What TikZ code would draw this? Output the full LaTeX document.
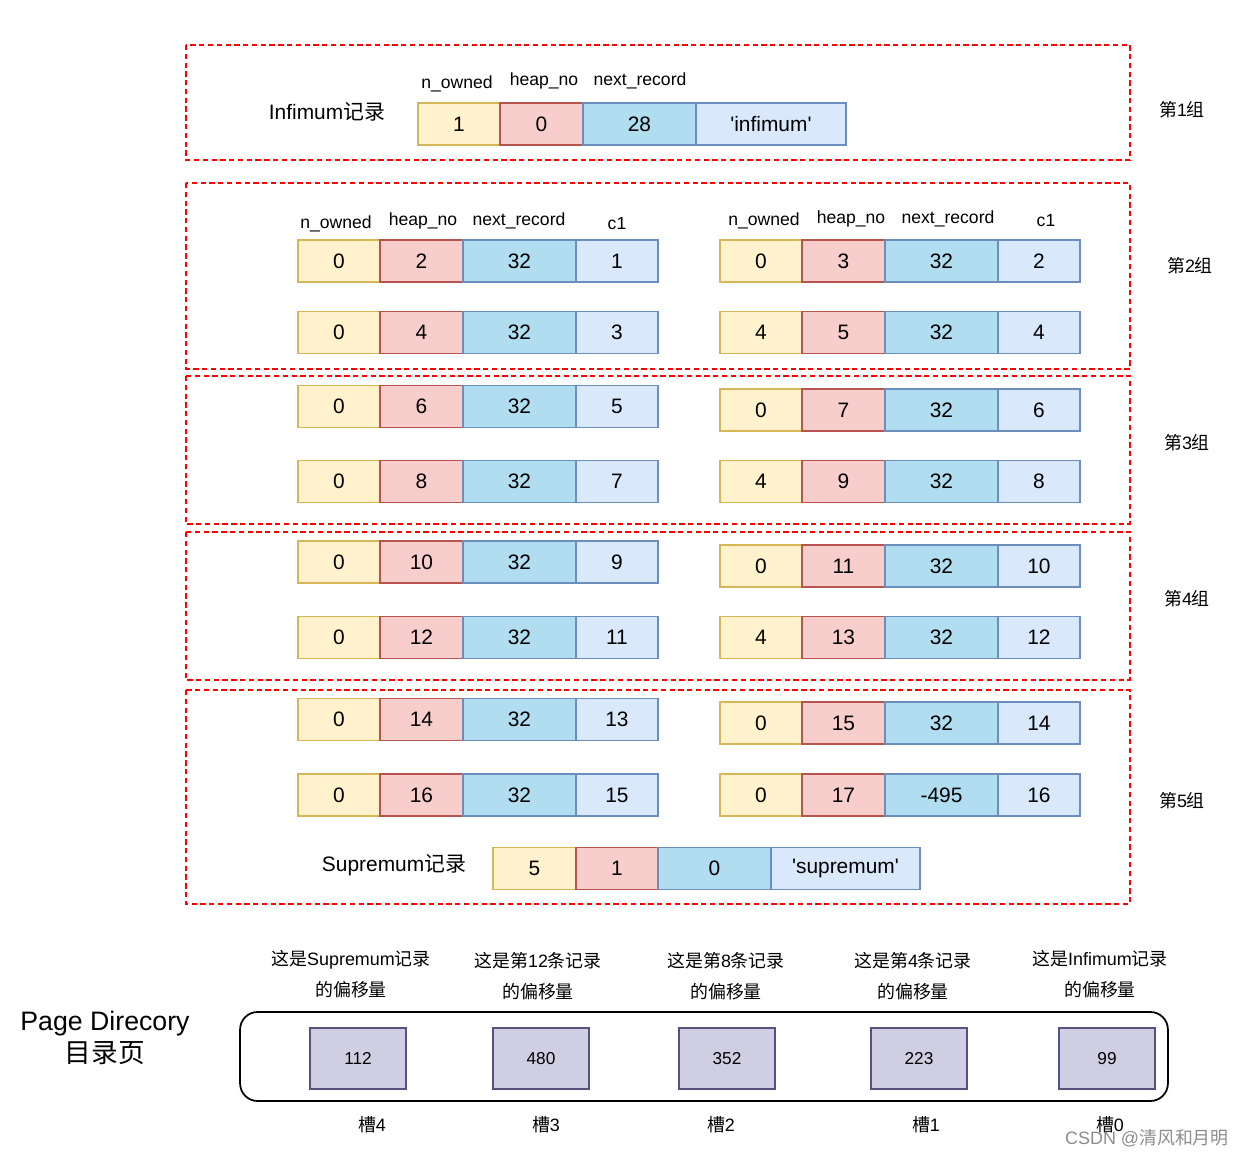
\documentclass[tikz,border=0pt]{standalone}
\usepackage{fontspec}
\setmainfont{Liberation Sans}
\newfontfamily\cjk{Noto Sans CJK SC}
\definecolor{yfill}{HTML}{FFF2CC}\definecolor{ydraw}{HTML}{D6B656}
\definecolor{rfill}{HTML}{F8CECC}\definecolor{rdraw}{HTML}{B85450}
\definecolor{bfill}{HTML}{B1DDF0}\definecolor{bdraw}{HTML}{6C8EBF}
\definecolor{lfill}{HTML}{DAE8FC}\definecolor{ldraw}{HTML}{6C8EBF}
\definecolor{pfill}{HTML}{D0CEE2}\definecolor{pdraw}{HTML}{56517E}
\definecolor{grpred}{HTML}{FF0000}
\tikzset{
  cellbase/.style={rectangle, line width=1pt, inner sep=0pt, outer sep=0pt,
    minimum height=0.84cm, font=\fontsize{11.9}{14}\selectfont, anchor=west},
  ycell/.style={cellbase, fill=yfill, draw=ydraw, minimum width=1.64cm},
  rcell/.style={cellbase, fill=rfill, draw=rdraw, minimum width=1.66cm},
  bcell/.style={cellbase, fill=bfill, draw=bdraw, minimum width=2.26cm},
  lcell/.style={cellbase, fill=lfill, draw=ldraw, minimum width=1.64cm},
  hdr/.style={font=\fontsize{10}{12}\selectfont, inner sep=0pt},
  lbl/.style={font=\fontsize{11.9}{14}\selectfont, inner sep=0pt},
  grplbl/.style={font=\fontsize{10.2}{12}\selectfont, inner sep=0pt},
  grp/.style={draw=grpred, line width=0.8pt, dash pattern=on 3pt off 2pt},
  slot/.style={rectangle, draw=pdraw, fill=pfill, line width=1pt,
    minimum width=1.92cm, minimum height=1.22cm, inner sep=0pt,
    font=\fontsize{9.8}{11}\selectfont},
  note/.style={font=\fontsize{10.2}{18}\selectfont, align=center, inner sep=0pt},
  slotlbl/.style={font=\fontsize{10.2}{12}\selectfont, inner sep=0pt},
}
\newcommand\recrow[7]{%
  \node[ycell] (#1a) at (#2,#3) {#4};
  \node[rcell] (#1b) at (#1a.east) {#5};
  \node[bcell] (#1c) at (#1b.east) {#6};
  \node[lcell] (#1d) at (#1c.east) {#7};
}
\begin{document}
\begin{tikzpicture}[x=0.02cm,y=-0.02cm]
\useasboundingbox (0,0) rectangle (1248,1155);

% group frames
\draw[grp] (186,45) rectangle (1130,160);
\draw[grp] (186,183) rectangle (1130,369);
\draw[grp] (186,376) rectangle (1130,524);
\draw[grp] (186,532) rectangle (1130,680);
\draw[grp] (186,690) rectangle (1130,904);

% group labels
\node[grplbl] (g1) at (1182,110) {{\cjk 第}1{\cjk 组}};
\node[grplbl] (g2) at (1190,266) {{\cjk 第}2{\cjk 组}};
\node[grplbl] (g3) at (1187,443) {{\cjk 第}3{\cjk 组}};
\node[grplbl] (g4) at (1187,599) {{\cjk 第}4{\cjk 组}};
\node[grplbl] (g5) at (1182,801) {{\cjk 第}5{\cjk 组}};

% infimum
\node[lbl] (inflbl) at (327,112) {Infimum{\cjk 记录}};
\node[hdr] (ih1) at (457,84) {n\_owned};
\node[hdr] (ih2) at (544,81) {heap\_no};
\node[hdr] (ih3) at (640,81) {next\_record};
\node[ycell, minimum width=1.64cm] (infa) at (418,124) {1};
\node[rcell] (infb) at (infa.east) {0};
\node[bcell] (infc) at (infb.east) {28};
\node[lcell, minimum width=3.0cm] (infd) at (infc.east) {\textquotesingle infimum\textquotesingle};

% headers group 2
\node[hdr] (lh1) at (336,224) {n\_owned};
\node[hdr] (lh2) at (423,221) {heap\_no};
\node[hdr] (lh3) at (519,221) {next\_record};
\node[hdr] (lh4) at (617,224) {c1};
\node[hdr] (rh1) at (764,221) {n\_owned};
\node[hdr] (rh2) at (851,219) {heap\_no};
\node[hdr] (rh3) at (948,219) {next\_record};
\node[hdr] (rh4) at (1046,221) {c1};

% records
\recrow{r1}{298}{261}{0}{2}{32}{1}
\recrow{r2}{720}{261}{0}{3}{32}{2}
\recrow{r3}{298}{332.5}{0}{4}{32}{3}
\recrow{r4}{720}{332.5}{4}{5}{32}{4}
\recrow{r5}{298}{406.5}{0}{6}{32}{5}
\recrow{r6}{720}{410}{0}{7}{32}{6}
\recrow{r7}{298}{481.5}{0}{8}{32}{7}
\recrow{r8}{720}{481.5}{4}{9}{32}{8}
\recrow{r9}{298}{562}{0}{10}{32}{9}
\recrow{r10}{720}{566}{0}{11}{32}{10}
\recrow{r11}{298}{637.5}{0}{12}{32}{11}
\recrow{r12}{720}{637.5}{4}{13}{32}{12}
\recrow{r13}{298}{719.5}{0}{14}{32}{13}
\recrow{r14}{720}{723}{0}{15}{32}{14}
\recrow{r15}{298}{795}{0}{16}{32}{15}
\recrow{r16}{720}{795}{0}{17}{-495}{16}

% supremum
\node[lbl] (suplbl) at (394,865) {Supremum{\cjk 记录}};
\node[ycell, minimum width=1.66cm] (supa) at (493,868.5) {5};
\node[rcell, minimum width=1.64cm] (supb) at (supa.east) {1};
\node[bcell] (supc) at (supb.east) {0};
\node[lcell, minimum width=2.98cm] (supd) at (supc.east) {\textquotesingle supremum\textquotesingle};

% page directory
\node[font=\fontsize{15.2}{18.5}\selectfont, align=center, inner sep=0pt] (pdl) at (105,1038) {Page Direcory\\{\cjk 目录页}};
\node[draw, line width=1pt, rounded corners=0.35cm, minimum width=18.56cm, minimum height=1.78cm, inner sep=0pt] (pd) at (704,1056.5) {};
\node[slot] (s4) at (358,1058.5) {112};
\node[slot] (s3) at (541,1058.5) {480};
\node[slot] (s2) at (727,1058.5) {352};
\node[slot] (s1) at (919,1058.5) {223};
\node[slot] (s0) at (1107,1058.5) {99};

\node[note] (n4) at (351,974) {{\cjk 这是}Supremum{\cjk 记录}\\{\cjk 的偏移量}};
\node[note] (n3) at (538,976) {{\cjk 这是第}12{\cjk 条记录}\\{\cjk 的偏移量}};
\node[note] (n2) at (726,976) {{\cjk 这是第}8{\cjk 条记录}\\{\cjk 的偏移量}};
\node[note] (n1) at (913,976) {{\cjk 这是第}4{\cjk 条记录}\\{\cjk 的偏移量}};
\node[note] (n0) at (1100,974) {{\cjk 这是}Infimum{\cjk 记录}\\{\cjk 的偏移量}};

\node[slotlbl] (l4) at (372,1125) {{\cjk 槽}4};
\node[slotlbl] (l3) at (546,1125) {{\cjk 槽}3};
\node[slotlbl] (l2) at (721,1125) {{\cjk 槽}2};
\node[slotlbl] (l1) at (926,1125) {{\cjk 槽}1};
\node[slotlbl] (l0) at (1110,1125) {{\cjk 槽}0};

\node[font=\fontsize{10.2}{12}\selectfont, text=black!45, inner sep=0pt] (wm) at (1147,1138) {CSDN @{\cjk 清风和月明}};
\end{tikzpicture}
\end{document}
